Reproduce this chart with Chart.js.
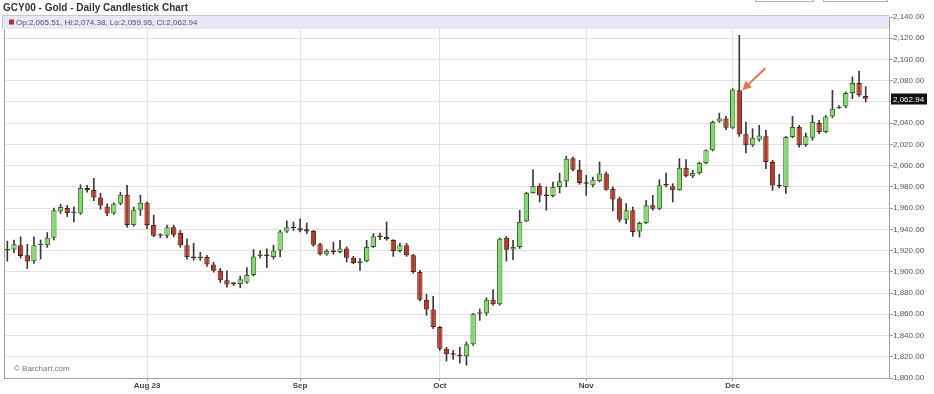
<!DOCTYPE html>
<html><head><meta charset="utf-8">
<script src="https://cdn.jsdelivr.net/npm/chart.js@4.4.1/dist/chart.umd.min.js"></script>
<style>html,body{margin:0;padding:0;background:#fff;}#wrap{width:934px;height:394px;}</style>
</head><body><div id="wrap"><canvas id="c" width="934" height="394"></canvas></div>
<script>
// Trading sessions (categories)
const categories = [
 '2023-07-03','2023-07-04','2023-07-05','2023-07-06','2023-07-07','2023-07-10','2023-07-11','2023-07-12','2023-07-13','2023-07-14',
 '2023-07-17','2023-07-18','2023-07-19','2023-07-20','2023-07-21','2023-07-24','2023-07-25','2023-07-26','2023-07-27','2023-07-28','2023-07-31',
 '2023-08-01','2023-08-02','2023-08-03','2023-08-04','2023-08-07','2023-08-08','2023-08-09','2023-08-10','2023-08-11','2023-08-14',
 '2023-08-15','2023-08-16','2023-08-17','2023-08-18','2023-08-21','2023-08-22','2023-08-23','2023-08-24','2023-08-25','2023-08-28',
 '2023-08-29','2023-08-30','2023-08-31',
 '2023-09-01','2023-09-04','2023-09-05','2023-09-06','2023-09-07','2023-09-08','2023-09-11','2023-09-12','2023-09-13','2023-09-14',
 '2023-09-15','2023-09-18','2023-09-19','2023-09-20','2023-09-21','2023-09-22','2023-09-25','2023-09-26','2023-09-27','2023-09-28','2023-09-29',
 '2023-10-02','2023-10-03','2023-10-04','2023-10-05','2023-10-06','2023-10-09','2023-10-10','2023-10-11','2023-10-12','2023-10-13',
 '2023-10-16','2023-10-17','2023-10-18','2023-10-19','2023-10-20','2023-10-23','2023-10-24','2023-10-25','2023-10-26','2023-10-27',
 '2023-10-30','2023-10-31',
 '2023-11-01','2023-11-02','2023-11-03','2023-11-06','2023-11-07','2023-11-08','2023-11-09','2023-11-10','2023-11-13','2023-11-14',
 '2023-11-15','2023-11-16','2023-11-17','2023-11-20','2023-11-21','2023-11-22','2023-11-23','2023-11-24','2023-11-27','2023-11-28',
 '2023-11-29','2023-11-30',
 '2023-12-01','2023-12-04','2023-12-05','2023-12-06','2023-12-07','2023-12-08','2023-12-11','2023-12-12','2023-12-13','2023-12-14',
 '2023-12-15','2023-12-18','2023-12-19','2023-12-20','2023-12-21','2023-12-22','2023-12-25','2023-12-26','2023-12-27','2023-12-28','2023-12-29'
];
const openPrices = [
 1920,1921,1925,1915.5,1910,1925,1925,1932,1957,1960,1955.5,1955,1979,1977,1970,1961.6,1955,1964,1972.6,1944,1958.5,
 1965,1944,1934,1934,1942,1936.5,1925,1914,1913,1914,1907,1901,1892,1889,1888.5,1890,1897,1915,1915.5,1914,1920,1938,1942,
 1941,1940,1938.5,1926,1916.5,1919,1918.7,1922,1913.3,1908.3,1910,1923.4,1933.4,1932.8,1930,1919.6,1925,1915.6,1899.8,1873.8,1864.4,
 1848,1827.6,1822.3,1822,1820.5,1831.7,1860.6,1861,1873.8,1869.4,1932,1921,1923.4,1947.6,1974.3,1981,1972,1971.4,1980,1985.2,2007,1996.2,
 1983.7,1981.5,1985.5,1992.5,1978,1969,1949.1,1958,1938,1946,1962.6,1959.5,1981.5,1980.5,1976.8,1998.1,1990,1993,2002.5,2014.4,2041.5,2044.5,
 2035.8,2071,2029.5,2019.1,2024.5,2027.6,2003.4,1981.4,1980,2027,2036.4,2019.5,2026.3,2040.1,2031.7,2046.4,2054,2055.8,2068.4,2077.8,2065.51
];
const highPrices = [
 1929,1930,1933,1926,1933,1930,1937,1960,1963.5,1962.5,1961,1982,1981.5,1988,1974,1964,1965,1975,1981.5,1961,1972,
 1966,1953.5,1936,1944,1944,1939,1931,1927,1918.5,1915.6,1909,1903.5,1901,1890,1896,1904,1921,1920,1921.7,1925,1939,1948,1947,
 1950,1946,1939,1927,1921,1928,1929.7,1923.5,1914.6,1912.4,1929.7,1936,1936.5,1947,1930.3,1927,1927,1916.5,1901.4,1878.8,1876.9,
 1848.6,1829,1826,1829,1834,1861,1865,1875.6,1883.2,1932,1933.4,1929.7,1958,1975,1996.2,1983,1980,1984.6,1993,2008.8,2008,2005,
 1990.9,1989.3,2003.5,1994,1980,1970.5,1964.2,1961,1947,1967.3,1972,1986.8,1993,1983,2006.6,2005.6,1995.6,2003.5,2015,2042,2049.6,2046.4,
 2072.5,2122.7,2041.1,2034.8,2038,2033.2,2005,1991.8,2027.6,2046.4,2038,2030.7,2047.3,2042.6,2047.3,2070.9,2056.6,2069.3,2083.5,2089.1,2074.38
];
const lowPrices = [
 1910,1918,1913,1903,1908,1912,1923,1930,1955,1952,1947,1954,1975,1967,1959,1953,1954,1963,1942,1943,1953,
 1940.6,1933,1932,1932,1933,1923,1912,1910.7,1910.7,1905,1899.7,1890,1885.5,1887,1885,1889,1896,1913,1904,1912,1914,1937,1939,
 1937.5,1936,1924,1915.6,1915.6,1916.5,1917.7,1909.3,1907.7,1901.4,1909.3,1922.8,1930.3,1929.7,1914.6,1918.7,1914.6,1898.8,1872.6,1859,1846.5,
 1826,1816,1817.5,1814,1812,1830.8,1854.3,1859,1868.5,1868.5,1910.2,1911.5,1922,1947,1974,1965.8,1958,1970.5,1974.3,1980,1995,1982.4,
 1972,1980,1984.6,1976.8,1957.3,1947,1945.4,1933.4,1932.8,1945.4,1958,1958.6,1980,1965.8,1976.8,1989.3,1988.7,1992,2001.9,2013.8,2040.8,2033.9,
 2034.8,2027.6,2011.9,2018,2023,1997.1,1976.7,1979,1973.9,2026.3,2017.5,2018,2023.8,2030,2030.7,2045.1,2054,2054.5,2063.1,2065.2,2059.95
];
const closePrices = [
 1921,1926,1915,1910,1925,1926,1932,1958,1961,1955.5,1956,1979,1977,1970,1962.5,1955,1964,1972.6,1944,1958.5,1965,
 1944,1934,1934.5,1942,1935,1925,1914,1913,1913.5,1907,1901,1892,1888,1888.5,1893,1897,1914.5,1915.5,1915,1920,1938,1942,1941,
 1939,1938,1925.6,1916.5,1919.6,1918.7,1922,1913.3,1908.3,1910,1923.4,1933.4,1932.8,1930.6,1919.6,1925,1915.6,1899.8,1873.8,1864.4,1848,
 1827.6,1822.3,1822,1820.5,1831.7,1860.6,1861,1873.8,1869.4,1931.2,1920.9,1923.4,1947,1974.3,1980.8,1972,1971.4,1980,1985.2,2006.6,1996.2,1983.7,
 1983,1986.8,1992.5,1977.4,1968,1949.1,1958,1937.5,1946,1962.6,1959.5,1981.5,1981.2,1976.8,1998.1,1990,1993,2002.5,2014.4,2041.1,2044.5,2035.8,
 2071.6,2029.5,2019.1,2026.3,2028.5,2003.4,1981.4,1980.5,2027,2036.4,2019.1,2027.6,2041.1,2031.7,2046.4,2053.6,2055,2068.4,2077.8,2066.2,2062.94
];
// Axis labels
const monthTickDates = ['2023-08-01','2023-09-01','2023-10-02','2023-11-01','2023-12-01'];
const monthTickLabels = ['Aug 23','Sep','Oct','Nov','Dec'];
const priceMin = 1800, priceMax = 2140, priceStep = 20;
const emptySessionsRight = 3;
const chartTitle = 'GCY00 - Gold - Daily Candlestick Chart';
const sourceNote = '\u00A9 Barchart.com';
const annotatedSession = '2023-12-04';

const GREEN = '#84d96e', GREEN_EDGE = '#2f6a21';
const RED = '#b23c2c', RED_EDGE = '#5a1a12';
const WICK = '#3a3a3a';
const FONT = "'Liberation Sans', Arial, sans-serif";

const fmt = v => Number(v).toLocaleString('en-US', {minimumFractionDigits: 2, maximumFractionDigits: 2});
const tickIdx = monthTickDates.map(d => categories.indexOf(d));
const isUp = i => closePrices[i] >= openPrices[i];

const bodies = categories.map((d, i) => ({x: i, y: [Math.min(openPrices[i], closePrices[i]), Math.max(openPrices[i], closePrices[i])]}));
const wicks = categories.map((d, i) => ({x: i, y: [lowPrices[i], highPrices[i]]}));

const decor = {
  id: 'decor',
  beforeDatasetsDraw(chart) {
    const {ctx, chartArea: a} = chart;
    ctx.save();
    ctx.strokeStyle = '#a0a0a0'; ctx.lineWidth = 1;
    ctx.beginPath(); ctx.moveTo(a.left + 0.5, a.top); ctx.lineTo(a.left + 0.5, a.bottom); ctx.stroke();
    ctx.restore();
  },
  afterDraw(chart) {
    const {ctx, chartArea: a, scales: {x, y}} = chart;
    const last = categories.length - 1;
    ctx.save();
    // title
    ctx.fillStyle = '#333'; ctx.font = 'bold 10px ' + FONT; ctx.textBaseline = 'middle'; ctx.textAlign = 'left';
    ctx.fillText(chartTitle, 3, 8);
    // top-right buttons (cut off)
    ctx.strokeStyle = '#a9b4c2'; ctx.lineWidth = 1;
    ctx.strokeRect(755.5, -6, 58, 7.5);
    ctx.strokeRect(823.5, -6, 64, 7.5);
    // OHLC band
    ctx.fillStyle = '#e7e7f7';
    ctx.fillRect(a.left - 2, 15, a.right - a.left + 2, 14);
    ctx.strokeStyle = '#c4c4d4';
    ctx.beginPath(); ctx.moveTo(a.left - 2, 15.5); ctx.lineTo(a.right, 15.5); ctx.stroke();
    ctx.beginPath(); ctx.moveTo(a.left - 1.5, 15); ctx.lineTo(a.left - 1.5, 29); ctx.stroke();
    ctx.fillStyle = isUp(last) ? GREEN : '#a6342a';
    ctx.fillRect(9, 19.5, 5, 5);
    ctx.fillStyle = '#555'; ctx.font = '8px ' + FONT;
    ctx.fillText('Op:' + fmt(openPrices[last]) + ', Hi:' + fmt(highPrices[last]) + ', Lo:' + fmt(lowPrices[last]) + ', Cl:' + fmt(closePrices[last]), 16, 22.5);
    // source note
    ctx.fillStyle = '#777'; ctx.font = '8px ' + FONT;
    ctx.fillText(sourceNote, 14, 368.5);
    // last price tag
    const yy = y.getPixelForValue(closePrices[last]);
    ctx.fillStyle = '#111';
    ctx.fillRect(a.right + 2, Math.round(yy) - 5.5, 36, 11);
    ctx.fillStyle = '#fff'; ctx.textAlign = 'left';
    ctx.fillText(fmt(closePrices[last]), a.right + 4, yy + 0.5);
    // arrow annotation
    const ai = categories.indexOf(annotatedSession);
    const tx = x.getPixelForValue(ai) + 3, ty = y.getPixelForValue(Math.max(openPrices[ai], closePrices[ai]));
    const sx = tx + 23, sy = ty - 22;
    const ang = Math.atan2(ty - sy, tx - sx);
    ctx.strokeStyle = '#e5744c'; ctx.fillStyle = '#e5744c'; ctx.lineWidth = 2;
    ctx.beginPath(); ctx.moveTo(sx, sy); ctx.lineTo(tx - 6 * Math.cos(ang), ty - 6 * Math.sin(ang)); ctx.stroke();
    ctx.beginPath();
    ctx.moveTo(tx, ty);
    ctx.lineTo(tx - 9 * Math.cos(ang) + 4.5 * Math.sin(ang), ty - 9 * Math.sin(ang) - 4.5 * Math.cos(ang));
    ctx.lineTo(tx - 9 * Math.cos(ang) - 4.5 * Math.sin(ang), ty - 9 * Math.sin(ang) + 4.5 * Math.cos(ang));
    ctx.closePath(); ctx.fill();
    ctx.restore();
  }
};

new Chart(document.getElementById('c'), {
  type: 'bar',
  data: {
    datasets: [
      {
        label: 'body', data: bodies, grouped: false, order: 0,
        backgroundColor: ctx => isUp(ctx.dataIndex) ? GREEN : RED,
        borderColor: ctx => isUp(ctx.dataIndex) ? GREEN_EDGE : RED_EDGE,
        borderWidth: 1, borderSkipped: false, barPercentage: 0.8, categoryPercentage: 1, minBarLength: 1.5
      },
      {
        label: 'wick', data: wicks, grouped: false, order: 1,
        backgroundColor: WICK, borderWidth: 0, barThickness: 1
      }
    ]
  },
  options: {
    responsive: false, animation: false, events: [],
    layout: {padding: {top: 17, left: 4, right: 0, bottom: 0}},
    plugins: {legend: {display: false}, tooltip: {enabled: false}},
    scales: {
      x: {
        type: 'linear', min: -0.5, max: categories.length - 0.5 + emptySessionsRight, offset: false,
        afterBuildTicks: s => { s.ticks = tickIdx.map(v => ({value: v})); },
        afterFit: s => { s.height = 16; },
        grid: {color: '#e2e2e2', drawTicks: true, tickLength: 3, tickColor: '#999', offset: false},
        border: {color: '#a0a0a0'},
        ticks: {
          autoSkip: false, maxRotation: 0, padding: 0, color: '#444',
          font: {family: FONT, size: 8, weight: 'bold'},
          callback: v => { const k = tickIdx.indexOf(v); return k >= 0 ? monthTickLabels[k] : ''; }
        }
      },
      y: {
        position: 'right', min: priceMin, max: priceMax,
        afterFit: s => { s.width = 45; },
        grid: {color: '#e2e2e2', tickLength: 4, tickColor: '#999'},
        border: {color: '#a0a0a0'},
        ticks: {stepSize: priceStep, padding: 0, color: '#555', font: {family: FONT, size: 8}, callback: v => fmt(v)}
      }
    }
  },
  plugins: [decor]
});
</script></body></html>
